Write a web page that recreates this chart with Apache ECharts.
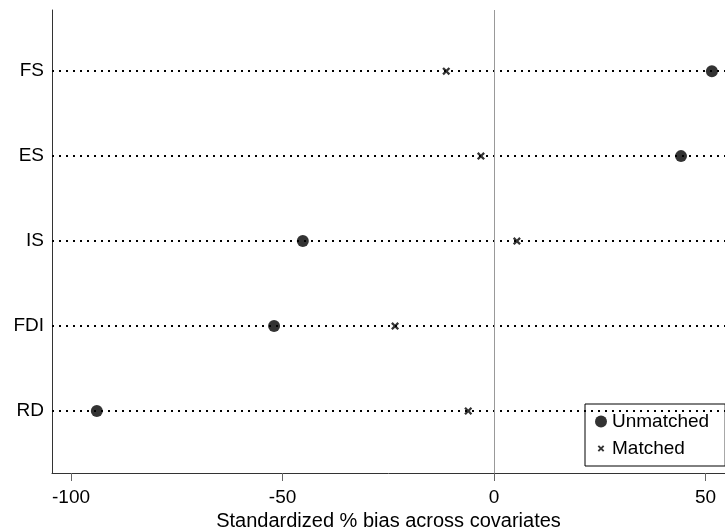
<!DOCTYPE html>
<html>
<head>
<meta charset="utf-8">
<script src="https://cdn.jsdelivr.net/npm/echarts@6/dist/echarts.min.js"></script>
<style>
  html, body { margin: 0; padding: 0; background: #fff; }
  #chart { width: 725px; height: 528px; }
</style>
</head>
<body>
<div id="chart"></div>
<script>
// covariates, bottom to top
var covariates = ['RD', 'FDI', 'IS', 'ES', 'FS'];
var unmatched = [-93.9, -52.0, -45.2, 44.2, 51.5];
var matched = [-6.1, -23.4, 5.4, -3.1, -11.3];
var xTicks = [-100, -50, 0, 50];

var crossPath = 'path://M0,2 L2,0 L5,3 L8,0 L10,2 L7,5 L10,8 L8,10 L5,7 L2,10 L0,8 L3,5 Z';
// same cross with an empty frame so the legend draws it smaller
var crossLegend = 'path://M-4,-4 L-4,-4 Z M14,14 L14,14 Z M0,2 L2,0 L5,3 L8,0 L10,2 L7,5 L10,8 L8,10 L5,7 L2,10 L0,8 L3,5 Z';

var yPos = covariates.map(function (c, i) { return i + 1; });

function pairs(vals) {
  return vals.map(function (v, i) { return [v, i + 1]; });
}

var chart = echarts.init(document.getElementById('chart'));
var font = 'Liberation Sans, Arial, sans-serif';

var option = {
  animation: false,
  grid: { left: 52, right: 0, top: 10, bottom: 55, outerBoundsMode: 'none' },
  legend: {
    orient: 'vertical',
    left: 585,
    top: 404,
    backgroundColor: '#fff',
    borderColor: '#000',
    borderWidth: 1,
    borderRadius: 0,
    padding: [8, 16, 8, 10],
    itemGap: 8,
    itemWidth: 12,
    itemHeight: 12,
    textStyle: { fontSize: 19, fontFamily: font, color: '#000' },
    data: [
      { name: 'Unmatched', icon: 'circle' },
      { name: 'Matched', icon: crossLegend }
    ]
  },
  xAxis: {
    type: 'value',
    min: -104.5,
    max: 54.6,
    name: 'Standardized % bias across covariates',
    nameLocation: 'middle',
    nameGap: 33,
    nameTextStyle: { fontSize: 20, fontFamily: font, color: '#000' },
    axisLine: { show: true, onZero: false, lineStyle: { color: '#333', width: 1 } },
    axisTick: { show: true, customValues: xTicks, length: 8, lineStyle: { color: '#666' } },
    axisLabel: { customValues: xTicks, margin: 15, fontSize: 19, fontFamily: font, color: '#000' },
    splitLine: { show: false }
  },
  yAxis: {
    type: 'value',
    min: 0.27,
    max: 5.72,
    axisLine: { show: true, onZero: false, lineStyle: { color: '#333', width: 1 } },
    axisTick: { show: false },
    axisLabel: {
      customValues: yPos,
      margin: 8,
      fontSize: 19,
      fontFamily: font,
      color: '#000',
      formatter: function (v) { return covariates[Math.round(v) - 1]; }
    },
    splitLine: { show: false }
  },
  series: [
    {
      name: 'guides',
      type: 'scatter',
      data: [],
      z: 1,
      silent: true,
      markLine: {
        silent: true,
        symbol: 'none',
        label: { show: false },
        lineStyle: { color: '#000', width: 2, type: [2, 5] },
        data: yPos.map(function (p) { return { yAxis: p }; })
      }
    },
    {
      name: 'zero',
      type: 'scatter',
      data: [],
      z: 1,
      silent: true,
      markLine: {
        silent: true,
        symbol: 'none',
        label: { show: false },
        lineStyle: { color: '#999', width: 1, type: 'solid' },
        data: [{ xAxis: 0 }]
      }
    },
    {
      name: 'Unmatched',
      type: 'scatter',
      z: 3,
      symbol: 'circle',
      symbolSize: 12,
      itemStyle: { color: '#000' },
      data: pairs(unmatched)
    },
    {
      name: 'Matched',
      type: 'scatter',
      z: 3,
      symbol: crossPath,
      symbolSize: 8,
      itemStyle: { color: '#000' },
      data: pairs(matched)
    }
  ]
};

chart.setOption(option);
</script>
</body>
</html>
